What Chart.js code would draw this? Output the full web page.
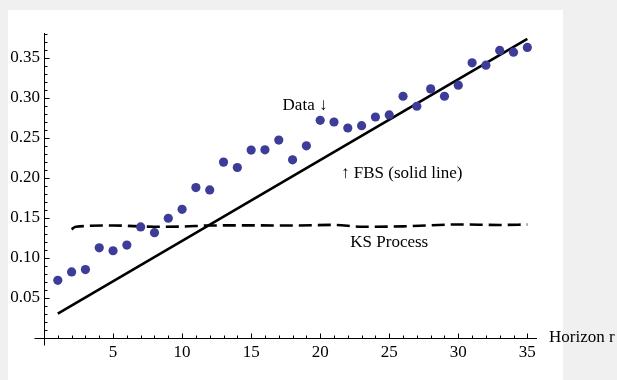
<!DOCTYPE html>
<html>
<head>
<meta charset="utf-8">
<script src="https://cdn.jsdelivr.net/npm/chart.js@4"></script>
<style>
  html, body { margin: 0; padding: 0; background: #f0f0f0; }
  #myChart { display: block; }
</style>
</head>
<body>
<canvas id="myChart" width="617" height="380"></canvas>
<script>
// horizon r = 1..35
const horizons = [1, 2, 3, 4, 5, 6, 7, 8, 9, 10, 11, 12, 13, 14, 15, 16, 17, 18,
    19, 20, 21, 22, 23, 24, 25, 26, 27, 28, 29, 30, 31, 32, 33, 34, 35];
const dataValues = [0.072, 0.0825, 0.0855, 0.1127, 0.109, 0.1161, 0.1387, 0.1316, 0.1496,
    0.1608, 0.1879, 0.185, 0.2197, 0.213, 0.2347, 0.2351, 0.2472, 0.2226, 0.2401, 0.2719,
    0.2698, 0.2623, 0.2652, 0.2761, 0.2786, 0.302, 0.2895, 0.3112, 0.302, 0.3158, 0.3438,
    0.3408, 0.3592, 0.3571, 0.363];

// FBS model: straight line
const fbsX = [1, 35];
const fbsValues = [0.0306, 0.3738];

// KS process: nearly flat dashed line
const ksX = [2, 2.3, 5, 8, 10, 12, 15, 18, 21, 23, 26, 30, 33, 35];
const ksValues = [0.1358, 0.139, 0.1405, 0.139, 0.1392, 0.1405, 0.1407, 0.1405, 0.1413,
    0.139, 0.1395, 0.1418, 0.1412, 0.1418];

const xTicks = [5, 10, 15, 20, 25, 30, 35];
const yTicks = [0.05, 0.10, 0.15, 0.20, 0.25, 0.30, 0.35];

const labels = [
    { text: 'Data \u2193', x: 18.9, y: 0.291 },
    { text: '\u2191 FBS (solid line)', x: 25.9, y: 0.206 },
    { text: 'KS Process', x: 25.0, y: 0.119 }
];

const FONT = '"Liberation Serif", "Times New Roman", serif';

const toPoints = (xs, ys) => xs.map((x, i) => ({ x: x, y: ys[i] }));

// mathematica style axes, minor ticks, panel and text labels
const axesPlugin = {
    id: 'axesPlugin',
    beforeDraw(chart) {
        const ctx = chart.ctx;
        ctx.save();
        ctx.fillStyle = '#f0f0f0';
        ctx.fillRect(0, 0, chart.width, chart.height);
        ctx.fillStyle = '#ffffff';
        ctx.fillRect(8, 10, 555, 370);
        ctx.restore();
    },
    beforeDatasetsDraw(chart) {
        const ctx = chart.ctx;
        const xs = chart.scales.x;
        const ys = chart.scales.y;
        const x0 = Math.round(xs.getPixelForValue(0)) + 0.5;
        const y0 = Math.round(ys.getPixelForValue(0)) + 0.5;
        ctx.save();
        ctx.strokeStyle = '#000';
        ctx.lineWidth = 1;
        ctx.beginPath();
        ctx.moveTo(x0 - 10, y0);
        ctx.lineTo(xs.right, y0);
        ctx.moveTo(x0, y0 + 7);
        ctx.lineTo(x0, ys.top);
        // x ticks every 1, major every 5
        for (let v = 1; v <= 35; v++) {
            const px = Math.round(xs.getPixelForValue(v)) + 0.5;
            const len = v % 5 === 0 ? 5 : 3;
            ctx.moveTo(px, y0);
            ctx.lineTo(px, y0 - len);
        }
        // y ticks every 0.01, major every 0.05
        for (let k = 1; k <= 38; k++) {
            const py = Math.round(ys.getPixelForValue(k / 100)) + 0.5;
            const len = k % 5 === 0 ? 5 : 3;
            ctx.moveTo(x0, py);
            ctx.lineTo(x0 + len, py);
        }
        ctx.stroke();
        ctx.restore();
    },
    afterDraw(chart) {
        const ctx = chart.ctx;
        const xs = chart.scales.x;
        const ys = chart.scales.y;
        ctx.save();
        ctx.fillStyle = '#000';
        ctx.font = '17px ' + FONT;
        ctx.textAlign = 'center';
        ctx.textBaseline = 'middle';
        labels.forEach(l => {
            ctx.fillText(l.text, xs.getPixelForValue(l.x), ys.getPixelForValue(l.y));
        });
        ctx.textAlign = 'left';
        ctx.fillText('Horizon r', xs.right + 12, ys.getPixelForValue(0));
        ctx.restore();
    }
};

new Chart(document.getElementById('myChart'), {
    type: 'scatter',
    data: {
        datasets: [{
            label: 'Data',
            data: toPoints(horizons, dataValues),
            backgroundColor: '#3d3d99',
            borderWidth: 0,
            pointRadius: 4.6,
            showLine: false,
            clip: false
        }, {
            label: 'FBS',
            data: toPoints(fbsX, fbsValues),
            showLine: true,
            borderColor: '#000',
            borderWidth: 2.6,
            pointRadius: 0,
            clip: false
        }, {
            label: 'KS Process',
            data: toPoints(ksX, ksValues),
            showLine: true,
            borderColor: '#000',
            borderWidth: 2.6,
            borderDash: [13, 6],
            cubicInterpolationMode: 'monotone',
            pointRadius: 0,
            clip: false
        }]
    },
    options: {
        responsive: false,
        animation: false,
        devicePixelRatio: 1,
        layout: { padding: { top: 33, right: 80, left: 0, bottom: 0 } },
        plugins: {
            legend: { display: false },
            tooltip: { enabled: false }
        },
        scales: {
            x: {
                type: 'linear',
                min: 0,
                max: 35.7,
                grid: { display: false, drawTicks: false },
                border: { display: false },
                afterBuildTicks: s => { s.ticks = xTicks.map(v => ({ value: v })); },
                afterFit: s => { s.height = 42; },
                ticks: {
                    color: '#000',
                    padding: 4,
                    maxRotation: 0,
                    font: { family: FONT, size: 17 }
                }
            },
            y: {
                type: 'linear',
                min: 0,
                max: 0.381,
                grid: { display: false, drawTicks: false },
                border: { display: false },
                afterBuildTicks: s => { s.ticks = yTicks.map(v => ({ value: v })); },
                afterFit: s => { s.width = 44; },
                ticks: {
                    color: '#000',
                    padding: 4,
                    font: { family: FONT, size: 17 },
                    callback: v => v.toFixed(2)
                }
            }
        }
    },
    plugins: [axesPlugin]
});
</script>
</body>
</html>
